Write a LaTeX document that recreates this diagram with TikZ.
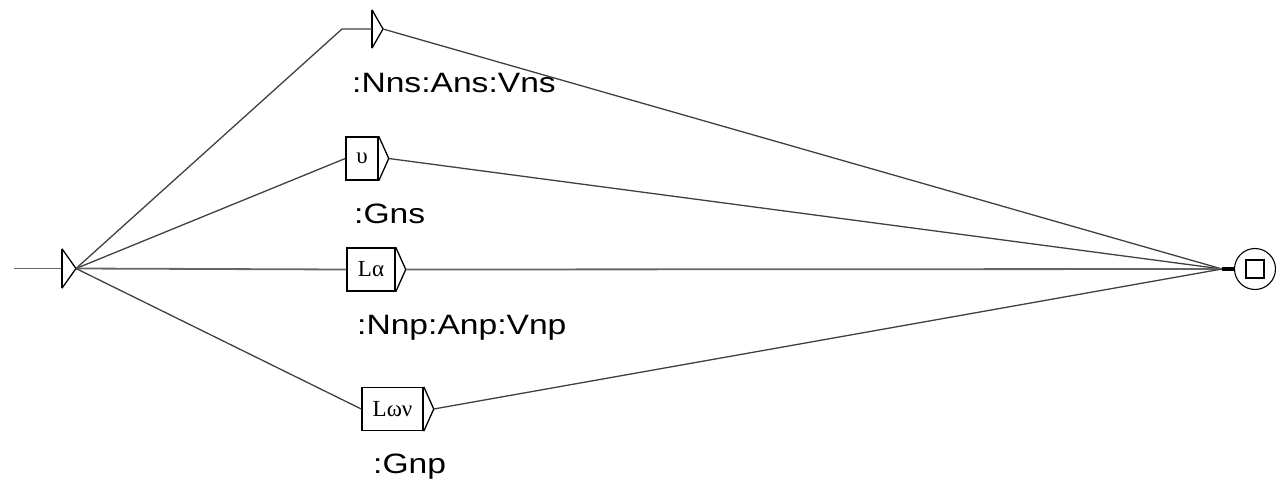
\documentclass[tikz,border=0pt]{standalone}
\usepackage{fontspec}
\setmainfont{Liberation Serif}
\newfontfamily\lblfont[FakeStretch=1.2]{Liberation Sans}
\begin{document}
\begin{tikzpicture}[x=1pt,y=-1pt,
  edge/.style={draw=black!75,line width=1.3pt},
  mainedge/.style={draw=black!60,line width=1.8pt},
  box/.style={draw=black,line width=1.5pt,fill=white,minimum width=#1,
    minimum height=43pt,inner sep=0pt,font=\fontsize{23}{23}\selectfont},
  bar/.style={minimum width=0pt,minimum height=#1,inner sep=0pt},
  tri/.style={draw=black,line width=1.3pt},
  lbl/.style={anchor=base west,inner sep=0pt,font=\lblfont\fontsize{28}{28}\selectfont}]
\useasboundingbox (0,0) rectangle (1276,479);

% initial state
\coordinate (in) at (14,268.5);
\node[bar=39pt] (s) at (62,268.5) {};
\coordinate (st) at ([xshift=14pt]s.center);
\draw[mainedge] (in) -- (s.center);
\draw[tri] (s.north) -- (s.south);
\draw[tri] (s.north) -- (st) -- (s.south);

% empty transition
\coordinate (e0) at (342,29);
\node[bar=38pt] (n0) at (372,29) {};
\coordinate (t0) at ([xshift=11pt]n0.center);
\draw[tri] (n0.north) -- (n0.south);
\draw[tri] (n0.north) -- (t0) -- (n0.south);

% boxes
\node[box=32pt] (b1) at (362,158.5) {υ};
\node[box=48pt] (b2) at (371,269.5) {Lα};
\node[box=61pt] (b3) at (392.5,409) {Lων};
\foreach \b/\t in {b1/t1,b2/t2,b3/t3}{
  \coordinate (\t) at ([xshift=10pt]\b.east);
  \draw[tri] (\b.north east) -- (\t) -- (\b.south east);
}

% final state
\node[circle,draw=black,line width=1.1pt,minimum size=41pt,inner sep=0pt] (f) at (1255,269) {};
\node[draw=black,line width=1.5pt,minimum size=18pt,inner sep=0pt] (fq) at (f.center) {};
\coordinate (cv) at (1222,269);

% outputs
\node[lbl] (o0) at (352,92) {:Nns:Ans:Vns};
\node[lbl] (o1) at (354,223) {:Gns};
\node[lbl] (o2) at (357,334) {:Nnp:Anp:Vnp};
\node[lbl] (o3) at (373,473) {:Gnp};

% transitions
\draw[edge] (st) -- (e0) -- (n0.center);
\draw[edge] (st) -- (b1.west);
\draw[mainedge] (st) -- (b2.west);
\draw[edge] (st) -- (b3.west);
\draw[edge] (t0) -- (cv);
\draw[edge] (t1) -- (cv);
\draw[mainedge] (t2) -- (cv);
\draw[edge] (t3) -- (cv);
\draw[line width=3.5pt] (cv) -- (f.west);
\end{tikzpicture}
\end{document}
